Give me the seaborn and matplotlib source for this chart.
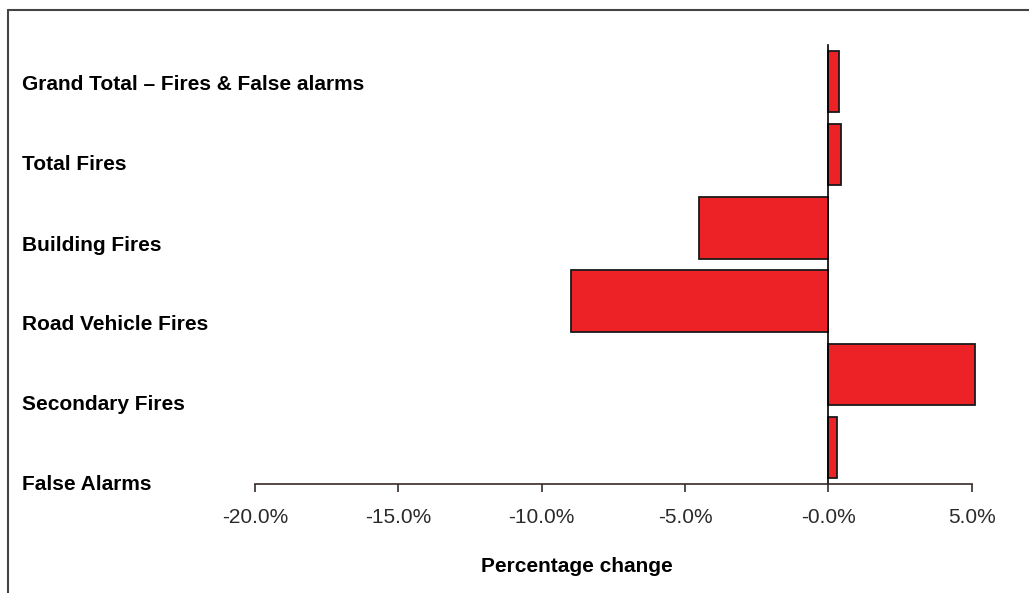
import numpy as np
import pandas as pd
import matplotlib
matplotlib.use("Agg")
import matplotlib.pyplot as plt
from matplotlib.lines import Line2D
from matplotlib.ticker import FuncFormatter
import seaborn as sns

# ==================================================
# DATA
# ==================================================
categories = [
    "Grand Total \u2013 Fires & False alarms",
    "Total Fires",
    "Building Fires",
    "Road Vehicle Fires",
    "Secondary Fires",
    "False Alarms",
]
pct_change = [0.38, 0.44, -4.51, -8.97, 5.10, 0.30]
x_ticks = [-20, -15, -10, -5, 0, 5]

df = pd.DataFrame({"category": categories, "change": pct_change})

# ==================================================
# STYLE
# ==================================================
sns.set_theme(style="white")
plt.rcParams["font.family"] = ["Liberation Sans", "DejaVu Sans"]

BAR_RED = "#EC2227"
AXIS_COL = "#3a2a2a"

fig = plt.figure(figsize=(10.29, 5.93), dpi=100)
ax = fig.add_axes([255 / 1029, 1 - 484 / 593, 721 / 1029, 439 / 593])

sns.barplot(data=df, x="change", y="category", orient="h", ax=ax,
            color=BAR_RED, saturation=1, width=0.84,
            edgecolor="#1a1a1a", linewidth=1.3)
for p in ax.patches:
    p.set_clip_on(False)

ax.set_xlim(-20, 5.15)
ax.set_ylim(5.5, -0.5)
ax.set_xticks(x_ticks)
ax.xaxis.set_major_formatter(FuncFormatter(
    lambda v, _: "-0.0%" if v == 0 else f"{v:.1f}%"))
ax.tick_params(axis="x", direction="out", length=6, width=1.2,
               color=AXIS_COL, labelsize=15, labelcolor="#2a2a2a",
               pad=11, bottom=True)
ax.set_yticks([])
ax.set_xlabel("")
ax.set_ylabel("")

for side in ["top", "right"]:
    ax.spines[side].set_visible(False)
ax.spines["left"].set_position(("data", 0))
ax.spines["left"].set_color("black")
ax.spines["left"].set_linewidth(1.2)
ax.spines["bottom"].set_bounds(-20, 5)
ax.spines["bottom"].set_color(AXIS_COL)
ax.spines["bottom"].set_linewidth(1.2)

# category labels sit on their own even grid, left aligned
label_y = np.linspace(85, 485, len(categories))
for name, ypix in zip(categories, label_y):
    fig.text(22 / 1029, 1 - ypix / 593, name, ha="left", va="center",
             fontsize=15, fontweight="bold", color="black")

fig.text(577 / 1029, 1 - 567 / 593, "Percentage change", ha="center",
         va="center", fontsize=15, fontweight="bold", color="black")

# frame (left and top edges)
fig.add_artist(Line2D([8 / 1029, 1], [1 - 9.5 / 593] * 2,
                      transform=fig.transFigure, color="#444444", lw=1.5))
fig.add_artist(Line2D([8 / 1029] * 2, [0, 1 - 9.5 / 593],
                      transform=fig.transFigure, color="#444444", lw=1.5))

fig.savefig("out.png", dpi=100, facecolor="white")
